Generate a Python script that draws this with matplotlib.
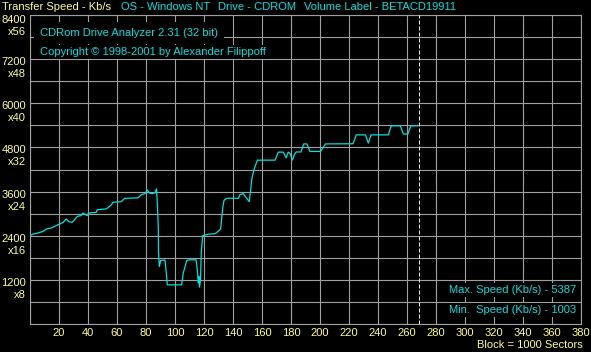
import matplotlib
matplotlib.use('Agg')
import matplotlib.pyplot as plt

BG = '#000000'
GRID = '#a0a0a0'
YELLOW = '#ffff80'
CYAN = '#00e0e0'
W, H = 591, 352

# transfer speed curve (block number, Kb/s)
BLOCKS = [0, 2.1, 5.5, 9.0, 11.2, 14.7, 17.0, 20.5, 22.8, 25.0,
          26.7, 29.0, 30.8, 32.6, 35.0, 36.6, 38.1, 39.3, 40.5, 45.7,
          46.4, 52.6, 56.1, 57.2, 63.0, 65.3, 74.5, 76.8, 79.3, 80.9,
          82.3, 83.9, 86.2, 87.2, 87.8, 88.5, 88.6, 89.2, 90.1, 93.1,
          93.8, 94.7, 104.6, 105.7, 108.1, 109.9, 114.5, 115.4, 116.1, 116.5,
          116.9, 117.6, 118.1, 119.1, 123.0, 127.6, 129.9, 131.5, 132.2, 132.9,
          133.8, 135.7, 143.7, 144.8, 147.1, 148.3, 151.2, 152.2, 153.1, 154.5,
          156.8, 169.0, 170.6, 171.2, 174.7, 176.6, 178.1, 179.3, 181.0, 182.4,
          183.5, 186.9, 188.8, 191.0, 193.1, 200.3, 203.8, 222.8, 225.0, 231.4,
          233.3, 235.2, 247.1, 249.1, 255.4, 257.5, 260.6, 262.6, 267.4]
SPEED = [2400, 2446, 2474, 2517, 2583, 2610, 2654, 2719, 2763, 2855,
         2782, 2763, 2836, 2926, 2945, 3019, 2981, 2945, 3019, 3035,
         3109, 3128, 3237, 3308, 3327, 3417, 3428, 3518, 3545, 3641,
         3564, 3545, 3564, 3674, 3300, 2618, 1972, 1563, 1726, 1737,
         1473, 1064, 1064, 1383, 1726, 1745, 1745, 1473, 1118, 1290,
         1003, 1200, 1936, 2400, 2441, 2455, 2523, 2583, 2883, 3155,
         3363, 3417, 3417, 3518, 3545, 3472, 3327, 3655, 3974, 4200,
         4454, 4454, 4609, 4672, 4672, 4519, 4672, 4636, 4459, 4609,
         4677, 4677, 4895, 4895, 4691, 4691, 4895, 4900, 5141, 5141,
         4918, 5141, 5141, 5387, 5387, 5163, 5163, 5387, 5387]

Y_LABELS = [1200, 2400, 3600, 4800, 6000, 7200, 8400]
X_LABELS = [20, 40, 60, 80, 100, 120, 140, 160, 180, 200,
            220, 240, 260, 280, 300, 320, 340, 360, 380]
END_BLOCK = 268
MAX_SPEED = 5387
MIN_SPEED = 1003

plt.rcParams['font.family'] = 'Liberation Sans'
plt.rcParams['font.size'] = 8

fig = plt.figure(figsize=(W / 100, H / 100), dpi=100)
fig.patch.set_facecolor(BG)

ax = fig.add_axes([30 / W, 28 / H, 551 / W, 309 / H])
ax.set_facecolor(BG)
ax.set_xlim(0, 380)
ax.set_ylim(0, 8400)
ax.set_xticks(range(0, 381, 20))
ax.set_yticks(range(0, 8401, 600))
ax.grid(True, color=GRID, lw=0.8)
ax.tick_params(length=0, labelbottom=False, labelleft=False)
for spine in ax.spines.values():
    spine.set_color(GRID)
    spine.set_linewidth(0.8)

# curve + end of disc marker
ax.plot(BLOCKS, SPEED, color=CYAN, lw=0.9, zorder=3)
ax.axvline(END_BLOCK, color='#e8e8e8', lw=0.72, dashes=(4, 2), zorder=3)


def px(x, y):
    """пиксельные координаты -> доли фигуры"""
    return x / W, 1 - y / H


# y labels: value + CD speed multiplier
for v in Y_LABELS:
    gy = 324 - v * 309 / 8400
    if v == 8400:
        ny, my = gy + 5, gy + 17
    else:
        ny, my = gy + 3, gy + 15
    fig.text(*px(26, ny), str(v), color=YELLOW, ha='right', va='center')
    fig.text(*px(26, my), 'x%d' % (v // 150), color=YELLOW, ha='right', va='center')

# x labels
for v in X_LABELS:
    fig.text(*px(30 + v * 551 / 380, 333), str(v), color=YELLOW, ha='center', va='center')
fig.text(*px(583, 345), 'Block = 1000 Sectors', color=YELLOW, ha='right', va='center')

# header
fig.text(*px(2, 7), 'Transfer Speed - Kb/s', color=YELLOW, ha='left', va='center')
fig.text(*px(121, 7), 'OS - Windows NT', color=CYAN, ha='left', va='center')
fig.text(*px(218, 7), 'Drive - CDROM', color=CYAN, ha='left', va='center')
fig.text(*px(304, 7), 'Volume Label - BETACD19911', color=CYAN, ha='left', va='center')

# texts inside the plot with black background
box = dict(facecolor=BG, edgecolor='none', pad=1.5)
fig.text(*px(40, 33), 'CDRom Drive Analyzer 2.31 (32 bit)', color=CYAN,
         ha='left', va='center', bbox=dict(facecolor=BG, edgecolor='none', pad=4), zorder=5)
fig.text(*px(40, 52), 'Copyright \u00a9 1998-2001 by Alexander Filippoff', color=CYAN,
         ha='left', va='center', bbox=box, zorder=5)
fig.text(*px(576, 290), 'Max. Speed (Kb/s) - %d' % MAX_SPEED, color=CYAN,
         ha='right', va='center', bbox=box, zorder=5)
fig.text(*px(576, 310), 'Min.  Speed (Kb/s) - %d' % MIN_SPEED, color=CYAN,
         ha='right', va='center', bbox=box, zorder=5)

fig.savefig('out.png', dpi=100, facecolor=BG)
